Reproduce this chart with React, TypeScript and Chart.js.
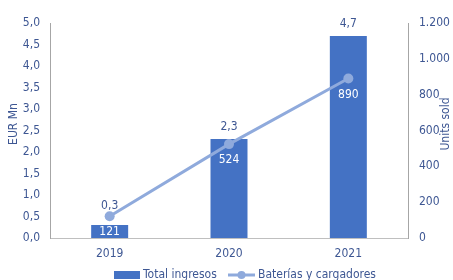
import React, { useEffect, useRef } from "react";
import { Chart, registerables } from "chart.js";

Chart.register(...registerables);

const categories = ["2019", "2020", "2021"];
const ingresos = [0.3, 2.3, 4.7];
const unidades = [121, 524, 890];
const ingresosLabel = "Total ingresos";
const unidadesLabel = "Baterías y cargadores";
const leftTitle = "EUR Mn";
const rightTitle = "Units sold";

const FONT = "'Liberation Sans Narrow', 'DejaVu Sans Condensed', Lato, sans-serif";
const TEXT = "#3E5793";
const BAR = "#4472C4";
const LINE = "#8FAADC";

const fmtDec = (v: number) => v.toFixed(1).replace(".", ",");
const fmtThousands = (v: number) =>
  String(Math.round(v)).replace(/\B(?=(\d{3})+(?!\d))/g, ".");

const overlay = {
  id: "overlay",
  afterDatasetsDraw(chart: any) {
    const ctx = chart.ctx;
    const barMeta = chart.getDatasetMeta(0);
    const lineMeta = chart.getDatasetMeta(1);
    ctx.save();
    ctx.textAlign = "center";
    ctx.textBaseline = "middle";
    ctx.font = `12px ${FONT}`;
    barMeta.data.forEach((bar: any, i: number) => {
      const pt = lineMeta.data[i];
      const top = Math.min(bar.y, pt.y + 2);
      ctx.fillStyle = TEXT;
      ctx.fillText(fmtDec(ingresos[i]), bar.x, top - 12);
    });
    lineMeta.data.forEach((pt: any, i: number) => {
      ctx.fillStyle = "#FFFFFF";
      ctx.fillText(fmtThousands(unidades[i]), pt.x, pt.y + 16);
    });
    ctx.restore();
  },
  afterDraw(chart: any) {
    const ctx = chart.ctx;
    const midY = 124;
    ctx.save();
    ctx.fillStyle = TEXT;
    ctx.font = `12px ${FONT}`;
    ctx.textAlign = "center";
    ctx.textBaseline = "middle";
    ctx.translate(14, midY);
    ctx.rotate(-Math.PI / 2);
    ctx.fillText(leftTitle, 0, 0);
    ctx.restore();

    ctx.save();
    ctx.fillStyle = TEXT;
    ctx.font = `12px ${FONT}`;
    ctx.textAlign = "center";
    ctx.textBaseline = "middle";
    ctx.translate(446, midY);
    ctx.rotate(-Math.PI / 2);
    ctx.fillText(rightTitle, 0, 0);
    ctx.restore();

    // legend
    ctx.save();
    ctx.font = `12px ${FONT}`;
    ctx.textBaseline = "middle";
    ctx.textAlign = "left";
    const ly = 275;
    ctx.fillStyle = BAR;
    ctx.fillRect(114, ly - 4, 26, 8);
    ctx.fillStyle = TEXT;
    ctx.fillText(ingresosLabel, 143, ly);
    ctx.strokeStyle = LINE;
    ctx.lineWidth = 3;
    ctx.beginPath();
    ctx.moveTo(228, ly);
    ctx.lineTo(255, ly);
    ctx.stroke();
    ctx.fillStyle = LINE;
    ctx.beginPath();
    ctx.arc(241.5, ly, 4, 0, Math.PI * 2);
    ctx.fill();
    ctx.fillStyle = TEXT;
    ctx.fillText(unidadesLabel, 258, ly);
    ctx.restore();
  },
};

export default function App() {
  const ref = useRef<HTMLCanvasElement | null>(null);
  useEffect(() => {
    if (!ref.current) return;
    const chart = new Chart(ref.current, {
      type: "bar",
      data: {
        labels: categories,
        datasets: [
          {
            type: "bar",
            label: ingresosLabel,
            data: ingresos,
            backgroundColor: BAR,
            barPercentage: 0.31,
            categoryPercentage: 1,
            yAxisID: "y",
            order: 1,
          },
          {
            type: "line",
            label: unidadesLabel,
            data: unidades,
            borderColor: LINE,
            backgroundColor: LINE,
            borderWidth: 3,
            pointRadius: 5,
            pointBackgroundColor: LINE,
            pointBorderWidth: 0,
            yAxisID: "y1",
            order: 0,
          } as any,
        ],
      },
      options: {
        animation: false,
        responsive: true,
        maintainAspectRatio: false,
        layout: { padding: { top: 23, left: 0, right: 0, bottom: 0 } },
        plugins: {
          legend: { display: false },
          tooltip: { enabled: false },
        },
        scales: {
          x: {
            grid: { display: false, drawTicks: false },
            border: { display: true, color: "#BFBFBF", width: 1 },
            ticks: {
              color: TEXT,
              font: { family: FONT, size: 12 },
              padding: 9,
            },
            afterFit(scale: any) {
              scale.height = 42;
            },
          },
          y: {
            position: "left",
            min: 0,
            max: 5,
            grid: { display: false, drawTicks: false },
            border: { display: true, color: "#A6A6A6", width: 1 },
            ticks: {
              stepSize: 0.5,
              color: TEXT,
              font: { family: FONT, size: 12 },
              padding: 10,
              callback: (v: any) => fmtDec(Number(v)),
            },
            afterFit(scale: any) {
              scale.width = 50;
            },
          },
          y1: {
            position: "right",
            min: 0,
            max: 1200,
            grid: { display: false, drawTicks: false },
            border: { display: true, color: "#A6A6A6", width: 1 },
            ticks: {
              stepSize: 200,
              color: TEXT,
              font: { family: FONT, size: 12 },
              padding: 11,
              callback: (v: any) => fmtThousands(Number(v)),
            },
            afterFit(scale: any) {
              scale.width = 45;
            },
          },
        },
      },
      plugins: [overlay],
    });
    return () => chart.destroy();
  }, []);
  return (
    <div style={{ position: "fixed", left: 0, top: 0, width: 453, height: 280, background: "#fff" }}>
      <canvas ref={ref} />
    </div>
  );
}
